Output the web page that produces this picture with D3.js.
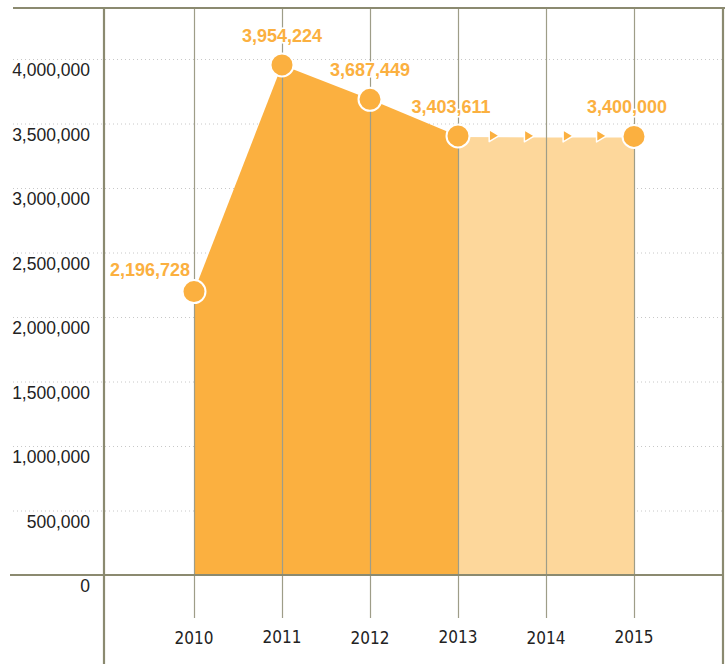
<!DOCTYPE html>
<html>
<head>
<meta charset="utf-8">
<script src="https://cdn.jsdelivr.net/npm/d3@7"></script>
<style>
  body { margin: 0; background: #fff; }
  .ytick { font-family: "Liberation Sans", Arial, sans-serif; font-size: 17.5px; fill: #222; }
  .xtick { font-family: "Liberation Sans Narrow", "DejaVu Sans Condensed", sans-serif; font-size: 17px; fill: #222; }
  .valueLabel { font-family: "Liberation Sans", Arial, sans-serif; font-size: 18px; font-weight: bold; fill: #fbb040;
                stroke: #fff; stroke-width: 3px; paint-order: stroke; }
</style>
</head>
<body>
<svg id="chart" width="725" height="664"></svg>
<script>
// actual values
const years = [2010, 2011, 2012, 2013];
const values = [2196728, 3954224, 3687449, 3403611];
// projection
const projYears = [2013, 2014, 2015];
const projValues = [3403611, 3400000, 3400000];
const projLabelIdx = [2]; // only 2015 is labelled
// axes
const yTicks = [0, 500000, 1000000, 1500000, 2000000, 2500000, 3000000, 3500000, 4000000];
const xTicks = [2010, 2011, 2012, 2013, 2014, 2015];
const arrowSteps = [0.2, 0.4, 0.62, 0.81];

const svg = d3.select("#chart");
const W = 725, H = 664;
const frameColor = "#8b8a70";
const gridColor = "#9e9d88";
const dark = "#fbb040", light = "#fdd79b";

const x = d3.scaleLinear().domain([2010, 2015]).range([194, 634]);
const y = d3.scaleLinear().domain([0, 4000000]).range([575, 59]);
const fmt = d3.format(",");

// dotted horizontal gridlines
svg.append("g").selectAll("line")
  .data(yTicks.filter(d => d > 0))
  .join("line")
    .attr("x1", 13).attr("x2", 723)
    .attr("y1", d => y(d) + 0.5).attr("y2", d => y(d) + 0.5)
    .attr("stroke", "#c8c8c8")
    .attr("stroke-dasharray", "1,3");

// y tick labels
svg.append("g").selectAll("text")
  .data(yTicks)
  .join("text")
    .attr("class", "ytick")
    .attr("x", 90)
    .attr("y", d => y(d) + 17)
    .attr("text-anchor", "end")
    .text(d => fmt(d));

// areas
const area = d3.area()
  .x(d => x(d[0]))
  .y0(y(0))
  .y1(d => y(d[1]));

const projData = projYears.map((yr, i) => [yr, projValues[i]]);
svg.append("path")
  .datum(projData)
  .attr("d", area)
  .attr("fill", light);

svg.append("path")
  .datum(years.map((yr, i) => [yr, values[i]]))
  .attr("d", area)
  .attr("fill", dark);

// projected line (white) with arrow markers
const line = d3.line().x(d => x(d[0])).y(d => y(d[1]));
svg.append("path")
  .datum(projData)
  .attr("d", line)
  .attr("fill", "none")
  .attr("stroke", "#fff")
  .attr("stroke-width", 2);

const yearAt = t => projYears[0] + t * (projYears[projYears.length - 1] - projYears[0]);
const valAt = d3.scaleLinear().domain(projYears).range(projValues);
svg.append("g").selectAll("path")
  .data(arrowSteps)
  .join("path")
    .attr("transform", t => "translate(" + x(yearAt(t)) + "," + (y(valAt(yearAt(t))) - 0.5) + ")")
    .attr("d", "M-4,-6L6,0L-4,6Z")
    .attr("fill", dark)
    .attr("stroke", "#fff")
    .attr("stroke-width", 1.5)
    .attr("stroke-linejoin", "round");

// vertical year gridlines
svg.append("g").selectAll("line")
  .data(xTicks)
  .join("line")
    .attr("x1", d => x(d) + 0.5).attr("x2", d => x(d) + 0.5)
    .attr("y1", 8).attr("y2", 618)
    .attr("stroke", gridColor)
    .attr("stroke-width", 1.2);

// x tick labels
svg.append("g").selectAll("text")
  .data(xTicks)
  .join("text")
    .attr("class", "xtick")
    .attr("x", d => x(d))
    .attr("y", (d, i) => 644 + (i % 2 === 1 ? -1 : 0))
    .attr("text-anchor", "middle")
    .text(d => d);

// frame
svg.append("line").attr("x1", 13).attr("x2", W).attr("y1", 8).attr("y2", 8)
  .attr("stroke", frameColor).attr("stroke-width", 2);
svg.append("line").attr("x1", 104).attr("x2", 104).attr("y1", 7).attr("y2", H)
  .attr("stroke", frameColor).attr("stroke-width", 2.2);
svg.append("line").attr("x1", 723).attr("x2", 723).attr("y1", 7).attr("y2", H)
  .attr("stroke", frameColor).attr("stroke-width", 2.2);
svg.append("line").attr("x1", 10).attr("x2", 723).attr("y1", y(0)).attr("y2", y(0))
  .attr("stroke", frameColor).attr("stroke-width", 2);

// dots
const dots = years.map((yr, i) => ({year: yr, value: values[i], first: i === 0}))
  .concat(projLabelIdx.map(i => ({year: projYears[i], value: projValues[i], first: false})));

svg.append("g").selectAll("circle")
  .data(dots)
  .join("circle")
    .attr("cx", d => x(d.year))
    .attr("cy", d => y(d.value))
    .attr("r", 11.5)
    .attr("fill", dark)
    .attr("stroke", "#fff")
    .attr("stroke-width", 2);

// value labels
svg.append("g").selectAll("text")
  .data(dots)
  .join("text")
    .attr("class", "valueLabel")
    .attr("x", d => d.first ? x(d.year) - 4 : x(d.year) - (d.year >= 2013 ? 7 : 0))
    .attr("y", d => d.first ? y(d.value) - 16 : y(d.value) - 23)
    .attr("text-anchor", d => d.first ? "end" : "middle")
    .text(d => fmt(d.value));
</script>
</body>
</html>
